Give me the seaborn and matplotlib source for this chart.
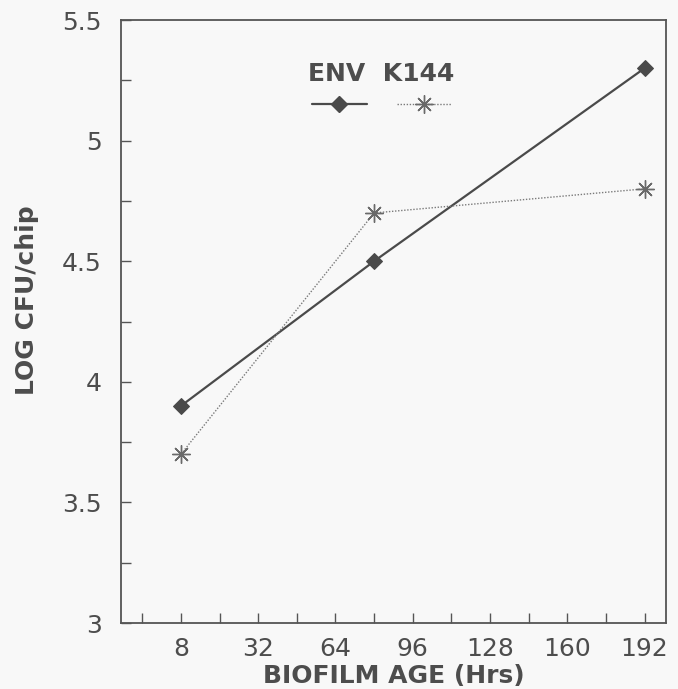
import numpy as np
import pandas as pd
import matplotlib
matplotlib.use("Agg")
import matplotlib.pyplot as plt
from matplotlib.lines import Line2D
import seaborn as sns

# ---- data ----
tick_hours = [8, 32, 64, 96, 128, 160, 192]
tick_labels = ["8", "32", "64", "96", "128", "160", "192"]
minor_hours = [-4, 20, 48, 80, 112, 144, 176]
hours = [8, 80, 192]
env_log = [3.9, 4.5, 5.3]
k144_log = [3.7, 4.7, 4.8]
series_names = ["ENV", "K144"]
y_major = [3, 3.5, 4, 4.5, 5, 5.5]
y_labels = ["3", "3.5", "4", "4.5", "5", "5.5"]
y_minor = [3.25, 3.75, 4.25, 4.75, 5.25]

df = pd.DataFrame({
    "hours": hours * 2,
    "log_cfu": env_log + k144_log,
    "strain": [series_names[0]] * len(hours) + [series_names[1]] * len(hours),
})

sns.set_theme(style="white")
plt.rcParams["font.family"] = ["DejaVu Sans"]

txt = "#4d4d4d"
bg = "#f8f8f8"
fs = 18

fig = plt.figure(figsize=(6.78, 6.89), dpi=100, facecolor=bg)
ax = fig.add_axes([121 / 678, 1 - 623 / 689, 545 / 678, 603 / 689])
ax.set_facecolor(bg)

idx = np.arange(len(tick_hours), dtype=float)


def fwd(x):
    x = np.asarray(x, dtype=float)
    p = np.interp(x, tick_hours, idx)
    p = np.where(x < tick_hours[0], (x - tick_hours[0]) / 24.0, p)
    p = np.where(x > tick_hours[-1], idx[-1] + (x - tick_hours[-1]) / 32.0, p)
    return p


def inv(p):
    p = np.asarray(p, dtype=float)
    x = np.interp(p, idx, tick_hours)
    x = np.where(p < 0, tick_hours[0] + p * 24.0, x)
    x = np.where(p > idx[-1], tick_hours[-1] + (p - idx[-1]) * 32.0, x)
    return x


env_style = dict(color="#4a4a4a", linewidth=1.6, marker="D", markersize=8,
                 markeredgecolor="#4a4a4a", markerfacecolor="#4a4a4a")
k_style = dict(color="#7a7a7a", linewidth=1.0, linestyle=(0, (1, 1.2)),
               marker=(8, 2, 0), markersize=13, markeredgewidth=1.0,
               markeredgecolor="#6a6a6a")

sns.lineplot(data=df[df.strain == "ENV"], x="hours", y="log_cfu", ax=ax,
             legend=False, **env_style)
sns.lineplot(data=df[df.strain == "K144"], x="hours", y="log_cfu", ax=ax,
             legend=False, **k_style)

ax.set_xscale("function", functions=(fwd, inv))
ax.set_xlim(inv(-0.776), inv(6.278))
ax.set_ylim(3, 5.5)
ax.set_xticks(tick_hours)
ax.set_xticklabels(tick_labels)
ax.set_xticks(minor_hours, minor=True)
ax.set_yticks(y_major)
ax.set_yticklabels(y_labels)
ax.set_yticks(y_minor, minor=True)

ax.tick_params(axis="both", which="both", direction="in", length=7, width=1,
               color="#555555", labelsize=fs, labelcolor=txt)
ax.tick_params(axis="x", which="both", bottom=True, top=False, pad=10)
ax.tick_params(axis="y", which="both", left=True, right=False, pad=14)

for s in ax.spines.values():
    s.set_color("#555555")
    s.set_linewidth(1.3)

ax.set_xlabel("BIOFILM AGE (Hrs)", fontsize=fs, fontweight="bold", color=txt)
ax.xaxis.set_label_coords(0.5, -0.068)
ax.set_ylabel("LOG CFU/chip", fontsize=fs, fontweight="bold", color=txt)
ax.yaxis.set_label_coords(-0.15, 0.535)

handles = [Line2D([], [], **env_style), Line2D([], [], **k_style)]
leg = ax.legend(handles, ["", ""], title="ENV  K144", ncol=2, frameon=False,
                loc="upper center", bbox_to_anchor=(0.478, 0.955),
                prop={"size": fs}, handlelength=2.2, handletextpad=0.0,
                columnspacing=1.2, title_fontsize=fs, borderaxespad=0.2,
                labelspacing=0.3)
leg.get_title().set_color(txt)
leg.get_title().set_fontweight("bold")

fig.savefig("out.png", dpi=100, facecolor=bg)
